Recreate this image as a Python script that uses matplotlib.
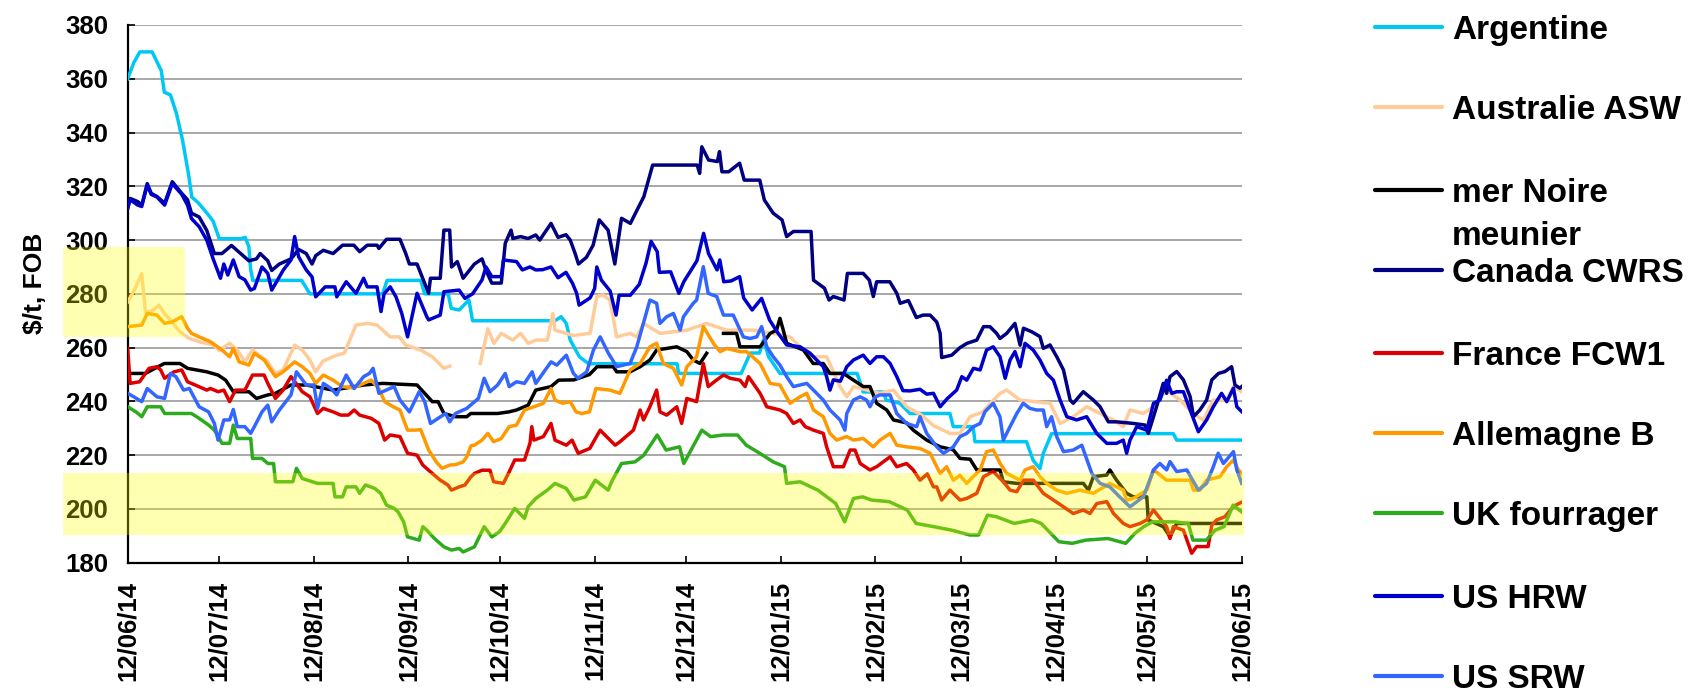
import numpy as np
import matplotlib
matplotlib.use('Agg')
import matplotlib.pyplot as plt
import matplotlib.dates as mdates
from matplotlib.lines import Line2D
from matplotlib.patches import Rectangle

plt.rcParams['font.family'] = ['Liberation Sans', 'DejaVu Sans']
plt.rcParams['font.weight'] = 'bold'

nan = np.nan

# ---------------- data (day offset from 12/06/2014, $/t FOB) ----------------
ARG_DAY = [0,2,4,8,11,12,14,16,18,20,21,23,26,28,30,37,38.5,39.7,40.3,41,57,59.7,83.5,85,96,97.3,105,106,108.6,111.8,
           113,140,142,143.7,145,148,151,180,180.5,201,204,207,208.3,210,213.7,239,241,247.6,248.5,253,256.3,269.4,270.5,
           277,277.6,294.5,296.7,298.9,300,302.7,342.6,343.7,365]
ARG_VAL = [360,366,370,370,363,355,354,347,337,324,316,314,310,307,300.5,300.5,301,297.5,289,285,285,280,280,285,285,280,280,
           274.6,274,277.7,270,270,271.5,269,262.8,256.6,254,254,250.4,250.4,258,258,262.8,256.6,250.4,250.4,243.5,243.5,
           240.5,239.3,235.5,235.5,230.6,230.6,225,225,218,215,220.7,228,228,225.6,225.6]

AUS_DAY = [0,2,4.6,5.8,7.7,10.2,12,14,17,20,24,28,30,33.4,36,38.4,40.9,45.9,48.4,50.9,54.7,57.2,59.7,61.6,64,68,71,74.8,
           78.5,81.7,86,89,91,96,99.8,103.6,105.5,110,115.5,118,120,122.4,126.2,128.7,131.2,133.7,137.5,139.3,140,143.7,
           146,151.5,153.7,155.8,158,160.2,164.6,166.8,169,174.4,183.2,189.7,196.3,205,211.6,217,220.3,224.7,229,233.4,
           235.6,237.8,246.5,250.9,255.2,260,264,269.4,272.7,276,280,285.8,288,292.4,302.2,305.5,309.8,314.2,318.6,323,
           326.2,328.4,332.8,336,340.4,344.8,349.2,352.4,355.7,360,362.3,365]
AUS_VAL = [277,281,287.5,273.4,273.4,275.8,272.7,270.3,266,263.5,262,261,259,261.6,259,254.7,259.1,254.7,250.4,251.7,
           260.9,259.1,255.4,251,255,257,258,268.4,269,268.4,264,264,261,259.1,256.6,252.3,253.1,nan,254.1,267,
           261.6,265.3,262.8,265.3,261.6,262.8,262.8,272.7,266.5,265.3,264.5,265.3,279,279.6,277.7,264,265.3,264,269,265.3,
           266.5,269,266.5,266.5,265.3,264,260.3,256.6,256.6,245.5,241.7,245.5,243,244.2,238,235,231,228.1,228.1,234.3,
           236,243,244.2,240.5,239.3,231.8,234.3,238,235.5,233,230.6,236.8,235.5,238,244.2,240.5,235.5,233,240.5,240.5,
           245.5,243.6]

BLK_DAY = [0,5.8,12,17.1,19.6,25.9,29.6,32.1,34.6,39.7,42.2,45.9,48.4,53.5,58.5,67.3,77.3,83.6,94.8,97.3,99.8,101.7,
           103.6,107.4,111.1,112.4,121.2,124.9,127.4,131.2,133.7,138.7,141.2,146.2,151.3,153.8,159.1,160.2,164.6,167.9,
           171.1,173.3,179.9,183.2,185.3,187.5,189.7,192.5,195.2,199.5,200.6,207.2,210.5,212.6,213.7,214.8,215.9,221.4,
           224.6,227.9,230.1,234.5,237.8,241,243.2,245.4,248.7,250.9,255.2,257.4,261.8,266.2,270.5,272.7,276,278.2,285.8,
           286.9,291.3,313.1,314.8,316.4,320.8,321.8,324,327.3,329.5,333.9,334.4,339.3,341.5,343.7,365]
BLK_VAL = [250.4,250.4,254.1,254.1,252.3,251,249.8,247.9,243.6,243.6,241.1,242.4,243,246.1,246.1,244.2,246.1,246.7,246.1,
           243,239.9,239.9,235.5,234.3,234.3,235.5,235.5,236.1,236.8,238.6,244.2,245.5,247.9,248,250,252.9,252.9,251,251,
           252.9,255.4,259.1,260.3,258.5,255.4,254.1,257.9,nan,265.3,265.3,260.3,260.3,265.3,266.5,270.9,266.5,261.6,
           259.1,254.1,254.1,250.4,250.4,247.9,245.5,245.5,239.3,236.8,233.1,232,229.3,225.6,223.1,222,218.8,218.5,214.5,
           214.5,210.1,209.5,209.5,207,212,212.6,214.5,210.7,205.8,204.5,204.5,195.9,193.4,189.7,194.6,194.6]

CAN_DAY = [0,0.8,3.3,4.6,6.4,7.7,9.6,12.1,14.6,17.7,19.6,20.9,23.4,25.9,28.4,30.9,34,39.7,42.2,43.4,45.9,47.2,49.7,53.5,
           56,58.5,60.4,61.6,64.1,67.3,70.4,74.1,76,78.5,81.7,82.3,84.8,89.2,91.1,92.3,94.8,97.3,98.6,99.2,102.4,103.6,
           105.5,106.1,108,109.9,113.6,116.1,117.4,119.3,122.4,123.7,125.6,126.2,128.7,131.2,133.7,135,138.7,141,143.6,
           145,146.6,147.7,150.3,152.5,153.7,154.5,157.4,159.6,161.8,164.7,166.9,169.1,172,186.6,187.4,188.1,190.3,193.2,
           193.9,194.7,196.9,200.5,202,207.1,208.6,211.5,214.4,215.9,218.1,223.9,224.7,228.3,229.8,231.2,234.7,235.8,241,
           243,244.3,245.4,249.7,252,253.1,255.8,258.4,260.6,262.9,265.1,266.2,266.7,270,272.7,275,278.2,280.4,282.5,
           284.7,285.8,288,290.7,292.4,293.5,296.2,298.9,300,302.2,304.4,306.6,308.8,309.8,313.1,316.4,318.6,321.3,324,
           329.5,333.3,334.4,337.1,339.3,340.4,341.5,343.7,345.9,348.1,349.2,351.3,353.5,355.2,357.4,359.5,361.7,362.8,
           364.4,365]
CAN_VAL = [311.8,315.5,314.3,313,321,317.4,316.2,313.7,321.7,317.4,315,310,308.6,303.6,295,295,298,292.3,293,295,
           292.3,288.7,291.1,293,296.5,295,291.1,294.2,296.2,295,298.1,298.1,295.7,298.1,298.1,296.9,300.3,300.3,295,291.1,
           291.1,284,280.2,285.8,285.8,303.7,303.7,290,292,285.8,291.1,293,288.7,284,284,298.8,303.7,300.6,301.3,300.6,
           301.9,300,306.2,301,302,300,295,291.1,293.6,298.1,303.7,307.5,303.7,291.1,308.1,306.2,311.2,316.1,327.9,327.9,
           324.8,334.7,329.8,329.2,332.9,325.4,325.4,328.6,322.3,322.3,314.9,310,307.5,301.3,303.2,303.2,285.1,282.1,277.7,279,
           277.7,287.6,287.6,285.1,279,284.5,284.5,280.2,276.5,277.5,271.2,272.1,272.1,269.5,265.3,256.3,257.2,260,261.6,262.8,
           267.8,267.8,265.3,263.4,265.3,269,260.9,267.2,265.9,264.1,259.7,261,256.6,251.7,240.5,239.3,243.6,240.5,238,232.4,
           232.4,231.8,231.2,228.1,238,246.7,243,249.2,251.1,248,241.8,234.3,236.8,240.5,248,250.4,251.1,252.9,246.1,244.9,
           245.5]

FRA_DAY = [0,0.8,3.9,7,9.6,10.8,12.1,15.2,17.7,19.6,22.1,25.9,27.1,29.6,31.5,33.4,35.3,38.4,40.9,44.7,45.9,48.4,50.9,
           53.5,57.2,59.7,62.2,64.1,67.3,69.8,72.3,74.2,76,79.8,82.3,84.2,86,89.2,91.7,94.8,96.7,99.2,102.4,104.9,106.1,
           108.6,110.5,112.4,113.6,116.1,118.7,119.9,123.1,125,126.8,130,131.8,132.4,133.1,136.2,138.7,140,143.7,145.6,
           147.6,151.4,154.8,159.7,161.3,165.7,167.9,169,171.1,173.3,174.4,176.6,179.9,181.5,183.2,186.4,188.6,190.2,193,
           195.2,197.4,200.6,202.3,203.4,207.2,209.4,211.5,213.7,215.9,218.1,220.3,222,224.7,227.9,229,231.2,234.5,236.7,
           238.3,240,243.2,245.4,249.8,252,255.2,257.4,259.6,262,264,265.1,266.7,269.4,272.7,274.9,278.2,280.4,283.6,286.9,
           289.1,291.3,293.5,296.7,300,303.3,306.6,309.8,313.1,315.3,317.5,320.8,323,326.2,328.4,331.7,333.9,336.1,340.4,
           341.5,342.6,345.9,348.6,350.2,354,355.2,356.8,359.5,362.3,365]
FRA_VAL = [259.7,246.7,247.3,252.3,252.9,251.7,248.6,251,251.7,247.3,246.1,244.2,244.8,243.6,244.2,239.9,244.2,244.2,
           249.8,249.8,246.7,241.1,244.2,249.2,243.6,241.7,235.5,237.4,236.1,234.9,234.9,236.8,234.9,233.7,231.8,225.6,
           227.5,226.9,220.7,220,216.3,213.8,210.7,208.9,207,208.2,208.9,211.9,213.2,214.4,214.4,210.1,209.5,213.8,218.2,
           218.2,224.4,230.6,225.6,226.9,231.8,225.6,223.7,225.6,220.7,222.5,229.3,223.7,225,229.3,236.8,233.1,238,244.2,
           236.1,234.9,238,231.8,241.1,239.9,254.1,245.5,248,249.8,248.6,247.9,245.5,249.2,243,238,237.4,236.8,235.5,231.8,
           233.1,230.6,229.3,228.1,223.1,215.7,215.7,221.9,221.9,216.9,214.5,215.7,219.4,215.7,216.9,214.5,210.7,213,208.2,
           208.2,203.3,207,203.3,203.9,205.8,212,213.9,210.1,207,206.4,210.7,210.7,205.8,203.3,200.8,198.3,199.6,198.3,202,
           202.7,198.3,194.6,193.4,194.6,195.9,199.6,193.4,189,193.4,192.1,183.5,186,186,194,195.9,197.1,201,202.5]

GER_DAY = [0,4.6,6.4,9.6,12.1,14.6,17.7,19.6,20.9,23.4,27.1,30.9,33.4,34.6,36.5,39.7,41.5,44.7,48.4,50.9,54.7,57.2,59.7,
           61.6,64.1,67.3,70.4,74,77.3,79.8,82.3,84.2,87,89.2,91.7,94.2,96,98.6,101.1,103,105.5,107.5,109.9,111.1,112.5,
           113.6,116.1,118,119.9,122.4,125,127.4,130,133.1,136.2,138.7,140,142.5,145,146.9,148.8,151.3,153.4,158,161.3,
           164.6,167.9,171.1,173.3,175.5,178.8,181.5,183.2,186.4,188.6,191.9,194.1,196.3,200.6,202.8,207.2,210.5,213.7,
           217,220.3,222.5,224.7,227.9,230.1,232.3,235.6,237.8,241,244.3,246.5,249.8,252,255.2,259.6,262.9,266.2,268.3,
           270.5,272.7,274.9,277,279.3,281.4,283.6,285.8,288,292.4,294,296.7,298.9,301.1,304.4,307.7,312,316.4,321.8,
           326.2,327.3,329.5,333.9,336.1,340.4,344.8,348.1,349.2,351.3,353.5,357.9,360.1,362.3,363.9,365]
GER_VAL = [267.8,268.4,272.7,272.1,269,269.6,271.5,267.2,265.3,264,262.2,259.1,256.6,259.7,254.7,253.5,257.9,255.4,
           249.2,251,254.7,252.9,250.4,246.7,249.8,247.9,245.5,245,246.7,247.9,244.8,239.9,238,236.8,229.3,229.3,229.5,
           221.9,217.5,215.1,216.3,216.5,217.5,219.4,223.5,223.7,225.6,228.1,225,226.2,230.6,231.2,236.8,238,239.3,244.8,
           240.5,239.3,239.9,236.1,235.5,236.1,244.8,244.2,243,251.7,254.1,260.3,261.6,254.1,252.3,246.1,252.9,256.6,
           267.8,261.6,258.5,259.7,258.5,258.5,254.1,246.7,246.1,239.3,241.7,243,236.8,234.3,228.1,225.6,226.9,225.6,
           226.2,223.1,225.6,228.1,223.7,223.1,222.5,220.7,213.2,215.7,210.7,212.5,209.5,212,214.5,221.3,221.9,217,213.2,
           210.7,214.5,215.7,212,209.5,207,205.8,207,205.8,209.5,207,203.3,203.9,207,214.5,210.7,210.7,210.7,207,207,
           210.7,212,215.7,218.2,214.5,213.2]

UK_DAY = [0,2.7,4.6,6.4,10.8,12.1,20.9,23.4,26.5,28.4,30.9,33.4,34.6,35.9,40.3,40.9,44,45.9,47.8,48.4,54.1,55.3,57.2,
          62.2,67.3,67.9,70.4,71.6,74.8,76,77.9,81,82.9,84.8,87.3,88.6,90.4,91.7,95.5,96.7,98,100.5,103.6,106.1,108.6,
          109.9,113.6,116.8,119.3,121.8,123.7,126.8,130,131.2,133.7,137.5,140,143.7,146.2,150,153.2,157.4,158.8,161.8,
          166.2,169.1,173.5,176.4,180.8,182.2,188.1,191,195.2,199.8,202.7,207.1,211.5,215.2,215.9,220.3,226.1,232,234.9,
          237.8,240.8,243.7,249.5,255.4,258.3,264.1,270,275.9,278.8,281.7,284.6,290.5,296.3,299.3,305.1,309.5,313.9,
          321.2,327,330,332.9,335.8,343.1,347.5,349,353.4,356.3,359.2,362.2,365]
UK_VAL = [238,236.1,234.3,238,238,235.5,235.5,233.7,231.2,229.3,224.4,224.4,231.2,226.2,226.2,218.8,218.8,216.9,216.9,
          210.1,210.1,215.1,211.3,209.5,209.5,204.5,204.5,208.2,208.2,205.8,208.9,207.6,205.8,201.4,200.2,198.9,195.2,
          189.6,188.4,193.4,192.1,189,185.9,184.7,185.3,184,185.9,193.4,189.6,191.5,194.6,200.2,196.5,200.8,203.9,207,
          209.5,207.6,203.3,204.5,210.7,207,210.7,216.9,217.5,220,227.5,221.9,223.1,216.9,229.3,226.9,227.5,227.5,223.7,
          220.7,217.5,215.7,209.5,210.1,207,202,195.2,203.9,204.5,203.3,202.7,199.6,194.6,193.4,192.1,190.3,190.3,197.7,
          197.1,194.6,195.9,194.6,187.8,187.2,188.4,189,187.2,190.9,193.4,195.2,195.2,194.6,188.4,188.4,192.1,193.4,
          201.4,198.9]

HRW_DAY = [0,0.8,3.3,4.6,6.4,7.7,9.6,12.1,14.6,17.7,19.6,20.9,23.4,25.9,28,30.4,31.5,32.8,34.6,36.5,38.4,40.3,41.5,44,
           45.9,47.2,51,53.5,54.7,56,58.5,60.4,61.6,64.7,67.9,68.5,71.6,74.8,77.3,78.5,81.7,83,84,86,87.9,89.8,91.7,94.8,
           98,98.6,102.4,103.6,108.6,110.5,113,116.1,117.4,119.3,122.4,123.1,127.4,129.3,131.8,133.7,136,138.7,141,143.6,
           145.7,147.1,147.9,151.5,153,153.7,155.2,158.1,160,161,164.7,167.6,169.8,171.5,173.5,174.2,177.9,180.6,182.2,
           186.5,188.7,190.3,193.1,194,195.3,197.7,200.5,201.8,204.6,207.7,210.3,212.7,215.9,220.3,223.6,227.9,229,230.1,
           231.2,233.5,235.6,237.8,241,243.2,245.4,247.6,249.8,252,254,256.3,259.6,261.8,264,266.2,268.5,271.6,273.3,
           274.9,277.1,279.3,281.4,283.6,285.8,287.5,289.1,290.7,292.4,294,296.7,298.9,301.1,303.3,305.5,307.7,310.9,
           314.2,317.5,320.8,324,326.2,327.3,328.4,330.6,333.9,336.1,338.2,340.4,342.1,343.7,345.9,348.1,350.8,353.5,
           355.7,358.4,360.1,362.3,363.4,365]
HRW_VAL = [312,315,313,312.5,320.5,317,316,313,321,317,313,308,305,300,293,285.8,291.1,287,292.6,286.4,285.2,281.4,282,
           290,287.6,281.4,288.9,292.6,301.3,293.8,288.9,286.3,278.9,282.6,282.6,278.9,284.5,280.2,285.8,282.6,282.6,
           273.4,280,282.6,278.9,272.7,264,280.2,271.5,270.3,272.1,280.8,281.4,278.3,280,285.2,290,286.4,286.4,292.6,292,
           288.9,290,288.9,289,290,286,288,284,280.2,275.8,278.5,282,290,285.1,281,272.1,279.5,279.5,283.5,291.3,299.5,
           295.7,288,288.2,280.2,284.5,292.3,302.5,295,288.9,292.6,284.5,284.8,286.4,278.5,274,278.3,270.3,266,261,260.3,
           257.9,252.9,249.2,244.2,248,247.5,252.9,255.4,257.2,254.1,256.6,256.6,254.1,249.2,244,243.9,244.5,242.7,243,
           238,241,244.2,249.2,247.9,252.3,251.7,259.1,260.3,256.6,248.6,255.4,258.5,252.9,261.6,259.1,255.4,250.4,247.9,
           240.5,234.3,233.1,234.3,228.1,224.4,224.4,225.6,220.7,225.6,230.6,229.3,239.3,240.5,247.9,243,243.6,243.6,
           236.8,228.7,233.1,238,243,239.9,244.9,238,236.2]

SRW_DAY = [0,2,4.6,6.4,9.6,12.1,14,15.8,18.3,20.2,23.4,26.5,28.4,29.6,31.5,33.4,34.6,35.9,38.4,40.3,41.5,44,45.9,47.2,
           49.7,53.5,55.3,58.5,61,62.2,64.1,66.6,68.5,71.6,74.2,77.3,79.2,80.4,82.3,87.3,89.2,92.3,95.5,97.3,99.2,101.7,
           104.2,105.5,107.4,111.1,114.9,116.8,118.7,121.2,123.7,125,127.4,130,132.5,133.7,138.7,140.6,143.7,146,147.5,
           150.4,152.6,154.8,157.5,160.2,164.6,166.8,171.1,173.3,174.4,176.6,178.8,181,182.1,185.3,186.4,188.6,190.2,193,
           195.2,198.4,201.7,203.9,206.1,207.7,209.4,211.5,213.7,215.9,218.1,220.3,222.5,224.7,227.9,230.1,233.4,235,
           235.6,237.8,240,242.1,243.2,244.9,246.5,249.8,252,255.2,258.5,259.6,261.8,265.1,267.3,270.5,272.7,274.9,277.1,
           279.3,280.9,283.6,285.8,286.9,289.1,291.3,293.4,295.6,297.8,300,301.1,302.7,304.4,306.6,309.8,312.6,315.9,
           318.6,321.8,325,328.4,332.8,336.1,338.2,340.4,341.5,343.7,347,350.8,353.5,355.7,357.3,359,362.3,363.4,365]
SRW_VAL = [243,241.7,239.9,244.8,241.7,241.1,250.4,249.2,244.2,244.8,238,236.1,231.8,225.6,233.1,233.1,237,230.6,230.6,
           228.1,230.6,236.1,238.6,232.4,236.8,242.4,251,246.1,246.1,237.4,246.7,244.8,242.4,249.8,244.8,249.2,250.4,252.3,
           243,245.5,240.5,236.1,243.6,239.9,231.8,233.7,235.5,232.4,235.5,237.4,241.1,248.6,243.6,246.1,250.4,245.5,
           247.3,246.7,251,246.7,254.7,253.5,257.2,250.5,248.6,251,259.1,264,257.9,252.9,254.1,260.3,277.7,276.5,269,
           271.5,272.7,266.5,271.5,276.5,277.7,290.1,280.2,279,272.1,272.1,264,263.4,264,267.8,260.3,256.6,253.5,249.2,
           245.5,246.1,246.7,244.2,240.5,236.8,233.1,229.3,235.5,240.5,241.7,240.5,238,241.7,242.4,242.4,235.5,231.8,
           230.6,234.3,228.1,223.1,220.7,223.1,226.9,228.1,230.6,231.8,236.2,239.3,234.3,225.6,230.6,235.5,239.3,237.4,
           236.8,236.8,230.6,234.3,226.9,221.3,221.9,223.7,213.2,209.5,208.2,204.5,200.8,204.5,214.5,216.9,214.5,217.6,
           213.9,214.5,207,209.5,215.7,220.7,216.9,221.3,214.5,209.5]

SERIES_NAMES = ['Argentine', 'Australie ASW', 'mer Noire\nmeunier', 'Canada CWRS', 'France FCW1',
                'Allemagne B', 'UK fourrager', 'US HRW', 'US SRW']
SERIES_DAYS = [ARG_DAY, AUS_DAY, BLK_DAY, CAN_DAY, FRA_DAY, GER_DAY, UK_DAY, HRW_DAY, SRW_DAY]
SERIES_VALS = [ARG_VAL, AUS_VAL, BLK_VAL, CAN_VAL, FRA_VAL, GER_VAL, UK_VAL, HRW_VAL, SRW_VAL]
COLORS = ['#00C8F5', '#FFCC99', '#000000', '#000080', '#DD0000', '#FF9900', '#2EAA1E', '#0000CC', '#3366FF']

Y_TICKS = [180, 200, 220, 240, 260, 280, 300, 320, 340, 360, 380]
Y_LABEL = '\\$/t, FOB'

# ---------------- figure ----------------
W, H = 1693, 690
fig = plt.figure(figsize=(W / 100, H / 100), dpi=100)
X0, X1, YT, YB = 127.7, 1241.7, 25.0, 562.7
ax = fig.add_axes([X0 / W, 1 - YB / H, (X1 - X0) / W, (YB - YT) / H])

BASE = np.datetime64('2014-06-12T00:00')


def to_dates(days):
    return BASE + (np.asarray(days, dtype=float) * 1440).round().astype('timedelta64[m]')


for d, v, c, n in zip(SERIES_DAYS, SERIES_VALS, COLORS, SERIES_NAMES):
    ax.plot(to_dates(d), np.asarray(v, dtype=float), color=c, lw=2.5, label=n,
            solid_joinstyle='round', zorder=3)

ax.set_xlim(BASE, BASE + np.timedelta64(365, 'D'))
ax.set_ylim(180, 380)
ax.set_yticks(Y_TICKS)
ax.xaxis.set_major_locator(mdates.MonthLocator(bymonthday=12))
ax.xaxis.set_major_formatter(mdates.DateFormatter('%d/%m/%y'))

ax.yaxis.grid(True, color='#A0A0A0', lw=1.3)
ax.set_axisbelow(True)
for s in ['top', 'right']:
    ax.spines[s].set_visible(False)
for s in ['left', 'bottom']:
    ax.spines[s].set_linewidth(1.6)
    ax.spines[s].set_color('black')

ax.tick_params(axis='both', direction='in', length=5, width=1.2, color='black')
ax.tick_params(axis='y', labelsize=18.5, pad=14)
ax.tick_params(axis='x', labelsize=18.5, pad=13, labelrotation=90)
for lab in ax.get_xticklabels() + ax.get_yticklabels():
    lab.set_fontweight('bold')

ax.set_ylabel(Y_LABEL, fontsize=19, fontweight='bold')
ax.yaxis.set_label_coords((35 - X0) / (X1 - X0), (YB - 283) / (YB - YT))
ax.yaxis.label.set_va('center')
ax.yaxis.label.set_ha('center')

# ---------------- legend (drawn to match the reference layout) ----------------
LEG_Y = [26.7, 107.3, 190, 270, 352.7, 432.7, 512.7, 595.7, 675.7]
FS = 24
cap_half = 0.358 * FS * 100 / 72
for y, c, n in zip(LEG_Y, COLORS, SERIES_NAMES):
    fig.add_artist(Line2D([1375 / W, 1442 / W], [1 - y / H, 1 - y / H], transform=fig.transFigure,
                          color=c, lw=3.0, solid_capstyle='round'))
    lines = n.split('\n')
    for k, t in enumerate(lines):
        fig.text(1452 / W, 1 - (y + cap_half + 43 * k) / H, t, ha='left', va='baseline',
                 fontsize=FS, fontweight='bold', color='black')

# ---------------- yellow highlight overlays ----------------
for (x0, y0, x1, y1) in [(63, 247, 185, 337), (63, 473, 1244, 535)]:
    fig.add_artist(Rectangle((x0 / W, 1 - y1 / H), (x1 - x0) / W, (y1 - y0) / H,
                             transform=fig.transFigure, facecolor='#FFFF00', alpha=0.3,
                             edgecolor='none', zorder=100))

fig.savefig('out.png', dpi=100)
